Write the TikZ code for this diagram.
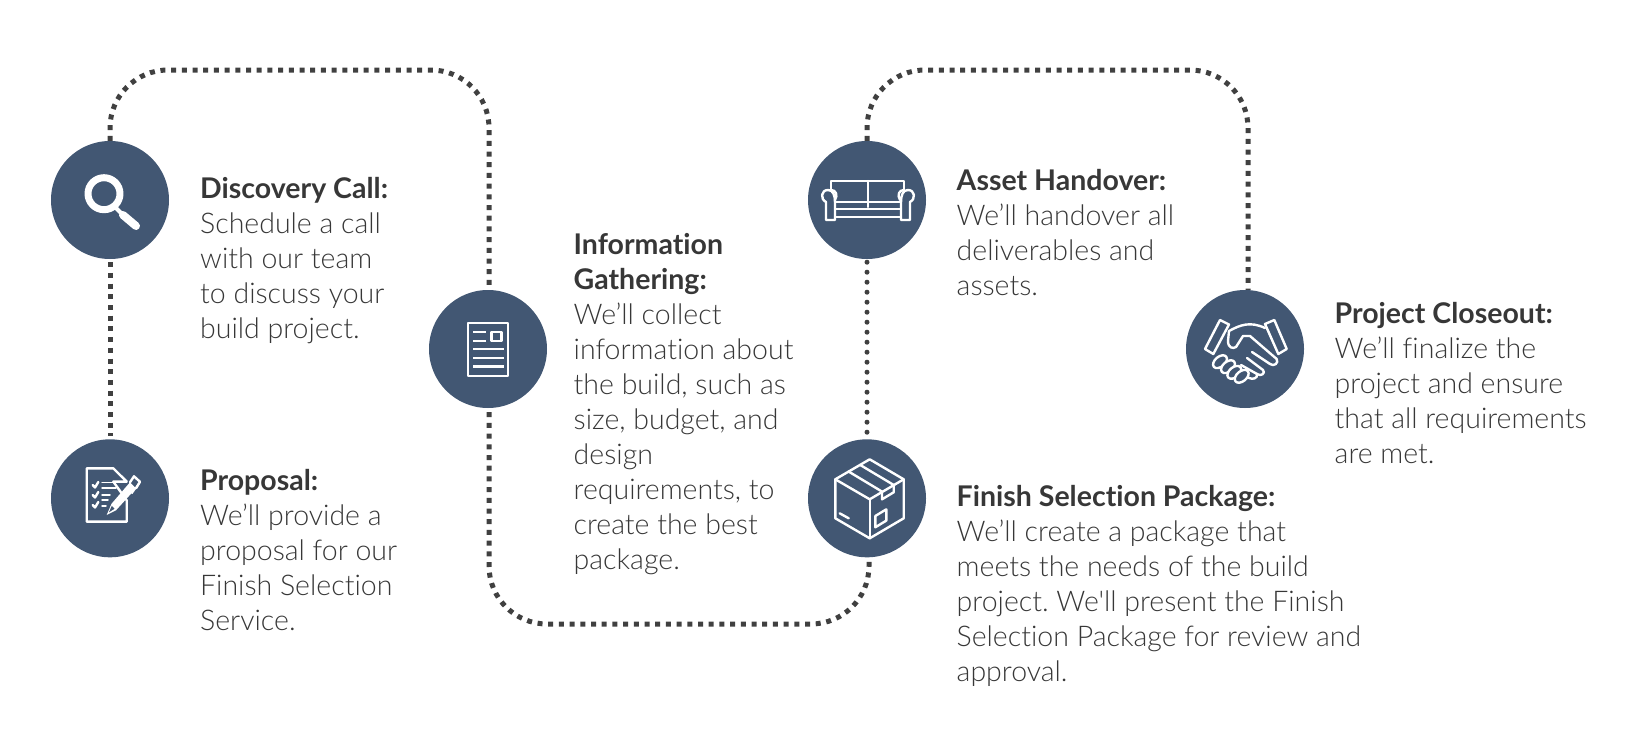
\documentclass[tikz,border=0pt]{standalone}
\usepackage{fontspec}
\usepackage{xcolor}
\setmainfont{Lato Light}[BoldFont=Lato Bold, Ligatures={CommonOff,TeXOff}]
\definecolor{stepblue}{RGB}{66, 87, 115}
\definecolor{routegray}{RGB}{64, 64, 64}
\definecolor{bodytext}{RGB}{55, 55, 55}
\tikzset{
    stepcircle/.style={circle, fill=stepblue, minimum size=118pt, inner sep=0pt},
    route/.style={draw=routegray, line width=5pt, dash pattern=on 5pt off 5.7pt},
    dotroute/.style={draw=routegray, line width=5pt, line cap=round, dash pattern=on 0pt off 10pt},
    steptext/.style={anchor=north west, inner sep=0pt, align=left, text=bodytext,
                     font=\fontsize{28.5pt}{35pt}\selectfont\frenchspacing},
    iconline/.style={draw=white, line width=2.4pt, line join=round, line cap=round}
}
\begin{document}
\begin{tikzpicture}[x=1pt, y=-1pt]
    \useasboundingbox (0,0) rectangle (1650,731);
    \node[stepcircle] (discovery) at (110,200) {};
    \node[stepcircle] (proposal) at (110,498.3) {};
    \node[stepcircle] (information) at (488,349) {};
    \node[stepcircle] (handover) at (867,200) {};
    \node[stepcircle] (package) at (867,498.3) {};
    \node[stepcircle] (closeout) at (1245,349) {};
    \coordinate (topleft) at (300,70);
    \coordinate (bottommid) at (680,624);
    \coordinate (topright) at (1050,70);

    \draw[route, rounded corners=58pt] (discovery.north) |- (topleft) -| ([xshift=1pt]information.north);
    \draw[route, shorten <=3pt, shorten >=3pt] (discovery.south) -- (proposal.north);
    \draw[route, rounded corners=58pt, shorten <=4pt] ([xshift=1pt]information.south) |- (bottommid) -| ([xshift=2pt]package.south);
    \draw[dotroute, shorten <=3pt, shorten >=3pt] (handover.south) -- (package.north);
    \draw[route, rounded corners=58pt] (handover.north) |- (topright) -| ([xshift=3pt]closeout.north);

    \node[steptext] (discoverytext) at (200,177) {\textbf{Discovery Call:}\\Schedule a call\\with our team\\to discuss your\\build project.};
    \node[steptext] (proposaltext) at (200,469) {\textbf{Proposal:}\\We’ll provide a\\proposal for our\\Finish Selection\\Service.};
    \node[steptext] (informationtext) at (573.5,233) {\textbf{Information}\\\textbf{Gathering:}\\We’ll collect\\information about\\the build, such as\\size, budget, and\\design\\requirements, to\\create the best\\package.};
    \node[steptext] (handovertext) at (956.5,168.8) {\textbf{Asset Handover:}\\We’ll handover all\\deliverables and\\assets.};
    \node[steptext] (packagetext) at (956.5,485.5) {\textbf{Finish Selection Package:}\\We’ll create a package that\\meets the needs of the build\\project. We'll present the Finish\\Selection Package for review and\\approval.};
    \node[steptext] (closeouttext) at (1334.5,301.7) {\textbf{Project Closeout:}\\We’ll finalize the\\project and ensure\\that all requirements\\are met.};

    % magnifier
    \begin{scope}[shift={(discovery.center)}]
        \draw[iconline, line width=7pt] (-6,-6.3) circle (16);
        \draw[iconline, line width=4pt] (6,8) -- (13,15);
        \draw[iconline, line width=8pt] (13,15) -- (26,26);
    \end{scope}

    % checklist and pen
    \begin{scope}[shift={(proposal.center)}]
        \draw[iconline] (16.7,2) -- (16.7,23.3) -- (-23.3,23.3) -- (-23.3,-30) -- (3.3,-30) -- (16.7,-16.7) -- (3.3,-16.7) -- cycle;
        \foreach \rowy in {-13.3,-3.3,6.7} {
            \draw[iconline] (-17.3,\rowy) -- (-15,\rowy+2.5) -- (-11.7,\rowy-3);
        }
        \foreach \rowx/\rowy in {10/-16, 6/-10.5, 0/-3.5, -2/1.5, -4/7.5} {
            \draw[iconline, line width=1.5pt] (-8,\rowy) -- (\rowx,\rowy);
        }
        \fill[white] (-3.3,16.7) -- (1.5,5.5) -- (20,-16) -- (26,-10) -- (6,12) -- cycle;
        \fill[stepblue] (-1,14) -- (1.8,7.5) -- (4.5,10.5) -- cycle;
        \draw[iconline] (20,-16) -- (24,-22) -- (30,-16.5) -- (26,-10);
        \draw[iconline, line width=1.5pt] (29,-15) -- (22,-5);
    \end{scope}

    % document
    \begin{scope}[shift={(information.center)}]
        \draw[iconline, line cap=butt] (-20,-26) rectangle (20,26.7);
        \draw[iconline, line cap=butt] (3.3,-17) rectangle (13.3,-8.3);
        \foreach \rowy in {-17,-8.3} {
            \draw[iconline, line cap=butt] (-15,\rowy) -- (-2.3,\rowy);
        }
        \foreach \rowy in {0,8.7,17.3} {
            \draw[iconline, line cap=butt] (-15,\rowy) -- (15.7,\rowy);
        }
    \end{scope}

    % sofa
    \begin{scope}[shift={(handover.center)}]
        \draw[iconline] (-36,-10) -- (-36,-19) -- (37,-19) -- (37,-10);
        \draw[iconline] (1,-19) -- (1,7);
        \draw[iconline] (-32,2) -- (34,2);
        \draw[iconline] (-32,9) -- (34,9);
        \draw[iconline] (-32,17) -- (34,17);
        \draw[iconline] (-36,-10) .. controls (-31,-10) and (-29,-5) .. (-32,0);
        \draw[iconline] (37,-10) .. controls (32,-10) and (30,-5) .. (33,0);
        \draw[iconline] (-41,20) -- (-41,2) .. controls (-47,-1) and (-46,-10) .. (-39,-10) .. controls (-34,-10) and (-32,-5) .. (-32,2) -- (-32,20) -- cycle;
        \draw[iconline] (43,20) -- (43,2) .. controls (49,-1) and (48,-10) .. (41,-10) .. controls (36,-10) and (34,-5) .. (34,2) -- (34,20) -- cycle;
    \end{scope}

    % box
    \begin{scope}[shift={(package.center)}]
        \draw[iconline] (2.7,-39) -- (-31.7,-19) -- (-31.7,20) -- (2.7,40) -- (36.7,20) -- (36.7,-19) -- cycle;
        \draw[iconline] (-31.7,-19) -- (2.7,1) -- (36.7,-19);
        \draw[iconline] (2.7,1) -- (2.7,40);
        \draw[iconline] (-18.3,-26.7) -- (15,-6.7) -- (15,1) -- (26.7,-6) -- (26.7,-13.3) -- (-6.7,-33.3);
        \draw[iconline] (8.3,17.7) -- (19.3,11) -- (19.3,22.3) -- (8.3,29) -- cycle;
        \draw[iconline] (-27.3,15) -- (-18.3,20);
    \end{scope}

    % handshake
    \begin{scope}[shift={(closeout.center)}]
        \draw[iconline] (-25,-29) -- (-16,-24.5) -- (-31.7,5) -- (-40,0) -- cycle;
        \draw[iconline] (20,-25) -- (29.3,-29) -- (41.7,0) -- (33.3,5) -- cycle;
        \draw[iconline] (-16,-18) .. controls (-5,-24) and (5,-28) .. (20,-21);
        \draw[iconline] (-16,-18) -- (-17,-8) .. controls (-17,-1) and (-12,0) .. (-9,-2) -- (-2,-13) -- (5,-13) -- (31.7,10) .. controls (34,14) and (29,18) .. (25,15);
        \draw[iconline] (7,3) -- (25,15);
        \draw[iconline] (2,9) -- (18,21) .. controls (21,24) and (16,28) .. (12,25);
        \draw[iconline] (-4,16) -- (12,25) .. controls (13,29) and (8,31) .. (4,29) -- (-3,24);
        \foreach \fingerx/\fingery in {-25/12.7, -17/17.7, -10.7/23.3, -3.3/27.3} {
            \draw[iconline, fill=stepblue, rotate around={40:(\fingerx,\fingery)}] (\fingerx,\fingery) ellipse (8 and 5);
        }
    \end{scope}
\end{tikzpicture}
\end{document}
